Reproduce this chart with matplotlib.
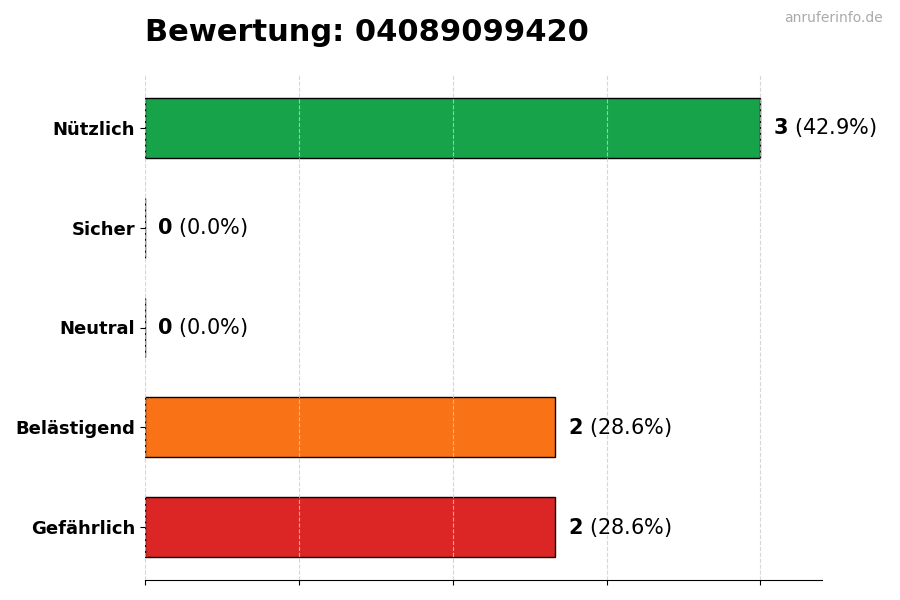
import matplotlib
matplotlib.use("Agg")
import matplotlib.pyplot as plt

categories = ["Nützlich", "Sicher", "Neutral", "Belästigend", "Gefährlich"]
counts = [3, 0, 0, 2, 2]
colors = ["#16a34a", "#9ca3af", "#3b82f6", "#f97316", "#dc2626"]
title = "Bewertung: 04089099420"
watermark = "anruferinfo.de"

plt.rcParams["mathtext.fontset"] = "dejavusans"
fig = plt.figure(figsize=(9, 6), dpi=100)
ax = fig.add_axes([145/900, 20/600, (822-145)/900, (525)/600 - 20/600 + 0.0])
ax.set_position([145/900, 1-580/600, (822-145)/900, (580-75)/600])

total = sum(counts)
ypos = list(range(len(categories)))
ax.barh(ypos, counts, height=0.6, color=colors, edgecolor="black", linewidth=1, zorder=2)
ax.set_yticks(ypos)
ax.set_yticklabels(categories, fontsize=13, fontweight="bold")
ax.invert_yaxis()
ax.set_xlim(0, max(counts) * 1.1)
ax.set_xticks([0, 0.75, 1.5, 2.25, 3.0])
ax.set_xticklabels([])
ax.grid(axis="x", linestyle="--", color="#cccccc", alpha=0.8, linewidth=0.8, zorder=3)
ax.set_axisbelow(False)
for s in ["top", "right", "left"]:
    ax.spines[s].set_visible(False)

for y, c in zip(ypos, counts):
    pct = c / total * 100
    ax.text(c + 0.06, y, r"$\mathbf{%d}$ (%.1f%%)" % (c, pct), va="center", ha="left", fontsize=15, zorder=4)

fig.text(145/900, 1-41/600, title, fontsize=22, fontweight="bold", ha="left", va="baseline")
fig.text(883/900, 1-22/600, watermark, fontsize=10, color="#aaaaaa", ha="right", va="baseline")

fig.savefig("out.png", dpi=100)
